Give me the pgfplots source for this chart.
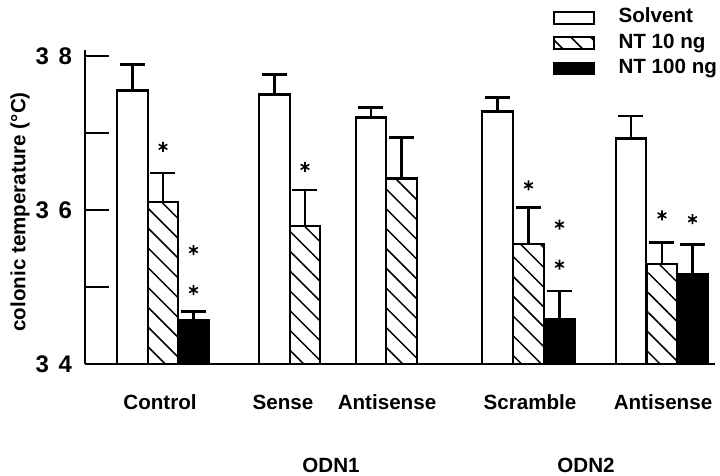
\documentclass[border=0pt]{standalone}
\usepackage{pgfplots}
\pgfplotsset{compat=1.18}
\usepackage{fontspec}
\setmainfont{Liberation Sans}
\usetikzlibrary{patterns.meta}

\pgfplotsset{
  mybar/.style={ybar, bar width=30.5, bar shift=0pt, draw=black, line width=1.2pt,
    legend image code/.code={\draw[##1, line width=0.9pt] (0pt,-3pt) rectangle (20pt,3pt);},
    error bars/y dir=plus, error bars/y explicit,
    error bars/error bar style={line width=1.2pt, black},
    error bars/error mark=-,
    error bars/error mark options={line width=1.2pt, mark size=6.25pt, black, rotate=90}},
}

\begin{document}
\begin{tikzpicture}
\begin{axis}[
  name=ax,
  scale only axis,
  width=315pt, height=157.1pt,
  xmin=85, xmax=715, ymin=34, ymax=38.08,
  clip=false,
  axis lines*=left,
  axis line style={line width=1pt},
  ytick={34,35,36,37,38},
  yticklabels={3\hspace{0.4em}4,,3\hspace{0.4em}6,,3\hspace{0.4em}8},
  yticklabel style={font=\fontsize{12}{14}\selectfont\bfseries, xshift=-3pt},
  ytick style={line width=1pt, black},
  tick align=inside,
  major tick length=12pt,
  xtick={160,283,387,530,663},
  xticklabels={Control,Sense,Antisense,Scramble,Antisense},
  xtick style={draw=none},
  xticklabel style={font=\fontsize{10.3}{12}\selectfont\bfseries, anchor=base, yshift=-23pt},
  ylabel={colonic temperature (°C)},
  ylabel style={font=\fontsize{10.3}{12}\selectfont\bfseries, at={(axis description cs:-0.1032,0.484)}, anchor=center},
  legend style={at={(0.743,1.1426)}, anchor=north west, draw=none, fill=none,
    inner sep=0pt, outer sep=0pt, row sep=0pt,
    font=\fontsize{10.3}{12}\selectfont\bfseries,
    nodes={inner sep=1.35pt, text height=0.75em, text depth=0.25em},
    /tikz/every odd column/.append style={column sep=10.5pt}},
  legend cell align=left,
]
\addplot[mybar, fill=white] coordinates {
  (132.5,37.55) +- (0,0.34)
  (274.5,37.50) +- (0,0.26)
  (371,37.20) +- (0,0.13)
  (497.5,37.28) +- (0,0.18)
  (631,36.93) +- (0,0.29)
};
\addlegendentry{Solvent}
\addplot[mybar, fill=white, postaction={pattern={Lines[angle=-45,distance=7pt,line width=0.75pt]}}] coordinates {
  (163,36.10) +- (0,0.38)
  (305,35.79) +- (0,0.47)
  (401.5,36.41) +- (0,0.53)
  (528.5,35.56) +- (0,0.47)
  (662,35.30) +- (0,0.28)
};
\addlegendentry{NT 10 ng}
\addplot[mybar, fill=black] coordinates {
  (193.5,34.57) +- (0,0.11)
  (559.5,34.58) +- (0,0.37)
  (692.5,35.17) +- (0,0.38)
};
\addlegendentry{NT 100 ng}
\addplot[only marks, mark=asterisk, mark size=2.5pt, mark options={line width=0.8pt}, black, forget plot] coordinates {
  (163,36.82) (193.5,35.48) (193.5,34.96) (305,36.56)
  (528.5,36.32) (559.5,35.81) (559.5,35.29) (662,35.93) (692.5,35.88)
};
\node[font=\fontsize{10.3}{12}\selectfont\bfseries, anchor=base, yshift=-54.5pt] at (axis cs:331,34) {ODN1};
\node[font=\fontsize{10.3}{12}\selectfont\bfseries, anchor=base, yshift=-54.5pt] at (axis cs:586,34) {ODN2};
\end{axis}
\pgfresetboundingbox
\path[use as bounding box] ([shift={(-42.5pt,-56pt)}]ax.south west) rectangle ([shift={(317.5pt,182pt)}]ax.south west);
\end{tikzpicture}
\end{document}
